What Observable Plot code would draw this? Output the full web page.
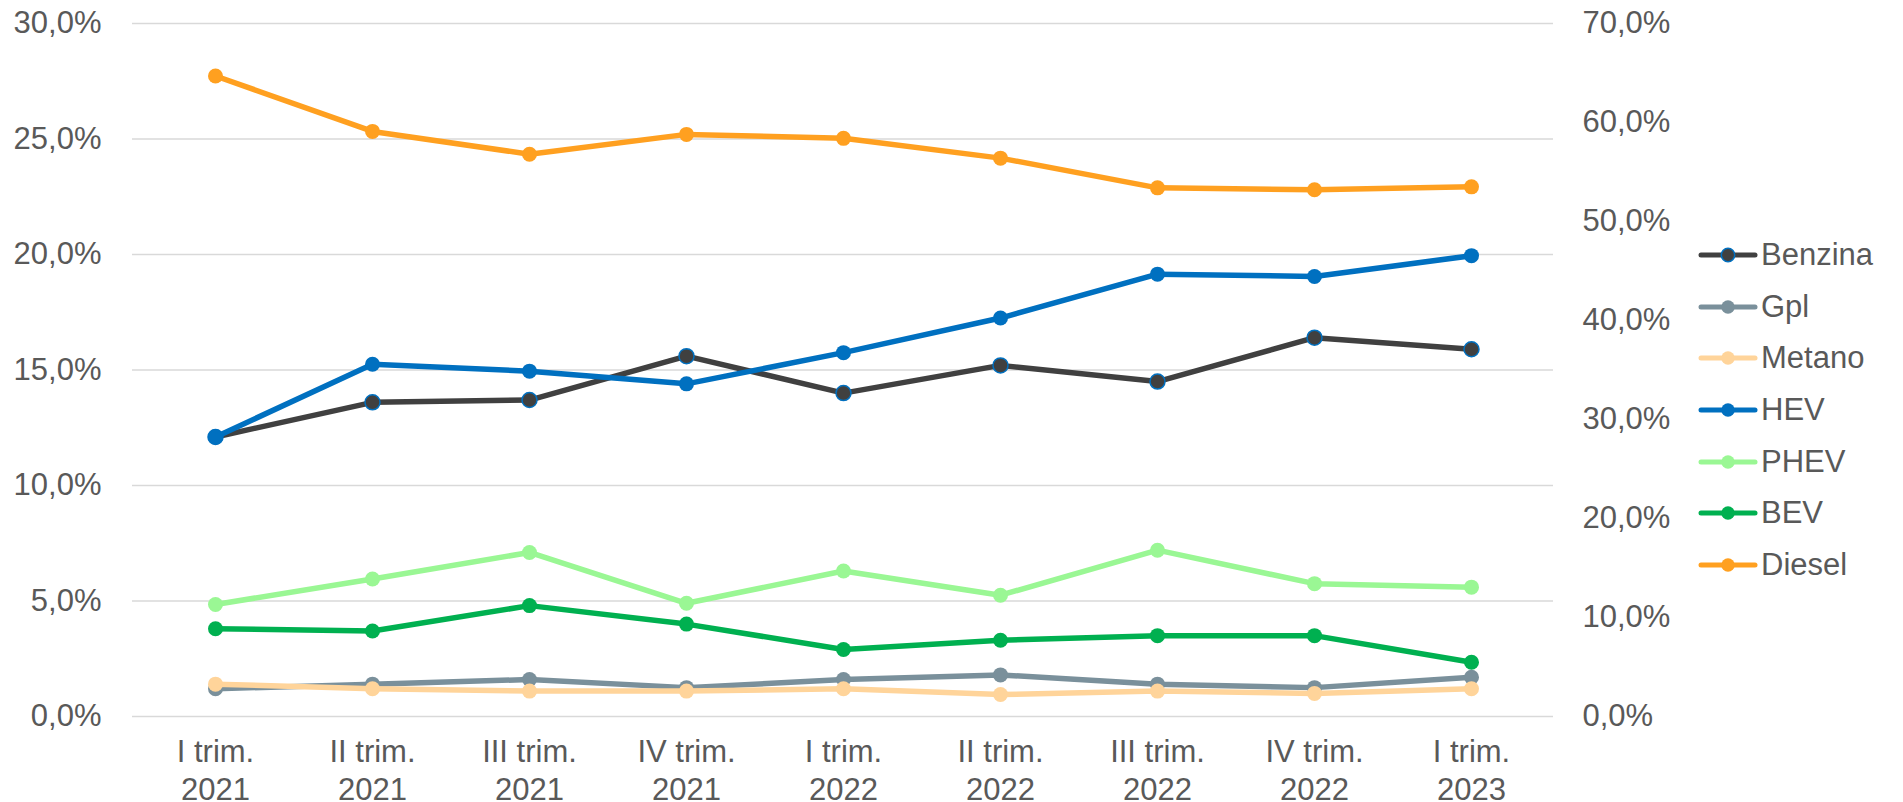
<!DOCTYPE html>
<html>
<head>
<meta charset="utf-8">
<script src="https://cdn.jsdelivr.net/npm/d3@7"></script>
<script src="https://cdn.jsdelivr.net/npm/@observablehq/plot@0.6"></script>
<style>
  html, body { margin: 0; padding: 0; background: #fff; }
  #wrap { position: relative; width: 1903px; height: 802px; overflow: hidden; font-family: "Liberation Sans", Arial, sans-serif; }
  #legend { position: absolute; left: 1698px; top: 229px; color: #595959; font-size: 31px; }
  .item { display: flex; align-items: center; height: 51.7px; }
  .item svg { margin-right: 3px; }
</style>
</head>
<body>
<div id="wrap"><div id="legend"></div></div>
<script>
const quarters = ["I trim.\n2021", "II trim.\n2021", "III trim.\n2021", "IV trim.\n2021",
                  "I trim.\n2022", "II trim.\n2022", "III trim.\n2022", "IV trim.\n2022", "I trim.\n2023"];
const seriesNames = ["Benzina", "Gpl", "Metano", "HEV", "PHEV", "BEV", "Diesel"];
const seriesColors = ["#404040", "#7a909b", "#ffd49a", "#0070c0", "#9af794", "#00b050", "#ffa020"];
// left axis (%)
const benzina = [12.1, 13.6, 13.7, 15.6, 14.0, 15.2, 14.5, 16.4, 15.9];
const gpl     = [1.2, 1.4, 1.6, 1.25, 1.6, 1.8, 1.4, 1.25, 1.7];
const metano  = [1.4, 1.2, 1.1, 1.1, 1.2, 0.95, 1.1, 1.0, 1.2];
const hev     = [12.1, 15.25, 14.95, 14.4, 15.75, 17.25, 19.15, 19.05, 19.95];
const phev    = [4.85, 5.95, 7.1, 4.9, 6.3, 5.25, 7.2, 5.75, 5.6];
const bev     = [3.8, 3.7, 4.8, 4.0, 2.9, 3.3, 3.5, 3.5, 2.35];
// right axis (%)
const diesel  = [64.7, 59.1, 56.8, 58.8, 58.4, 56.4, 53.4, 53.2, 53.5];
const leftTicks = [0, 5, 10, 15, 20, 25, 30];
const rightTicks = [0, 10, 20, 30, 40, 50, 60, 70];

const seriesValues = [benzina, gpl, metano, hev, phev, bev, diesel];
const onRight = ["Diesel"];
const k = 30 / 70;
const fmt = v => v.toFixed(1).replace(".", ",") + "%";

const data = [];
seriesNames.forEach((name, si) => {
  seriesValues[si].forEach((v, i) => {
    data.push({series: name, q: quarters[i], y: onRight.includes(name) ? v * k : v});
  });
});

const FS = 31;
const marks = [
  Plot.gridY(leftTicks, {stroke: "#d9d9d9", strokeOpacity: 1, strokeWidth: 1.5})
];
seriesNames.forEach((name, si) => {
  const d = data.filter(r => r.series === name);
  marks.push(Plot.line(d, {x: "q", y: "y", stroke: seriesColors[si], strokeWidth: 5.5}));
  marks.push(Plot.dot(d, {x: "q", y: "y", r: 7.5, fill: seriesColors[si],
    stroke: name === "Benzina" ? "#0070c0" : seriesColors[si], strokeWidth: name === "Benzina" ? 1.5 : 0}));
});
marks.push(Plot.axisY(leftTicks, {anchor: "left", tickSize: 0, tickPadding: 31, tickFormat: fmt, fontSize: FS, label: null}));
marks.push(Plot.axisY(rightTicks.map(t => t * k), {anchor: "right", tickSize: 0, tickPadding: 29,
  tickFormat: d => fmt(Math.round(d / k)), fontSize: FS, label: null}));
marks.push(Plot.axisX({anchor: "bottom", tickSize: 0, tickPadding: 19, fontSize: FS, lineHeight: 1.22, label: null}));

const chart = Plot.plot({
  width: 1903,
  height: 802,
  marginLeft: 132,
  marginRight: 350,
  marginTop: 23,
  marginBottom: 86,
  x: {type: "point", domain: quarters, padding: 0.5},
  y: {domain: [0, 30]},
  style: {fontFamily: "'Liberation Sans', Arial, sans-serif", fontSize: FS + "px", color: "#595959", background: "#fff"},
  marks
});
chart.style.position = "absolute";
chart.style.left = "0";
chart.style.top = "0";
document.getElementById("wrap").insertBefore(chart, document.getElementById("legend"));

const legend = document.getElementById("legend");
seriesNames.forEach((name, si) => {
  const item = document.createElement("div");
  item.className = "item";
  const c = seriesColors[si];
  const st = name === "Benzina" ? "#0070c0" : c;
  item.innerHTML = `<svg width="60" height="18"><line x1="3" y1="9" x2="57" y2="9" stroke="${c}" stroke-width="5" stroke-linecap="round"/><circle cx="30" cy="9" r="6.7" fill="${c}" stroke="${st}" stroke-width="${name === "Benzina" ? 1.5 : 0}"/></svg><span>${name}</span>`;
  legend.appendChild(item);
});
</script>
</body>
</html>
